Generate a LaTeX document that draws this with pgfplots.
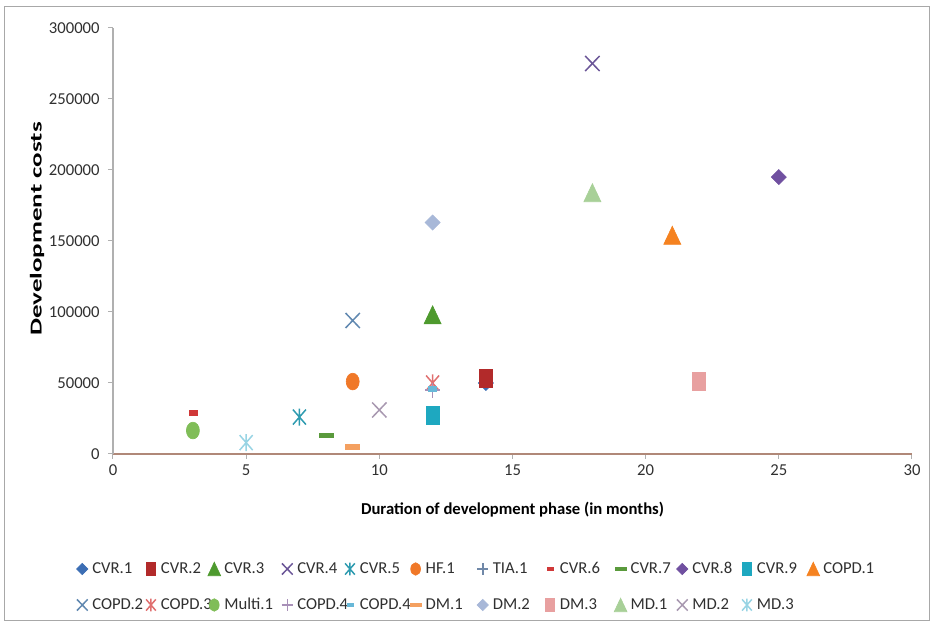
\documentclass[border=0pt]{standalone}
\usepackage{pgfplots}
\pgfplotsset{compat=1.18}
\usepackage{fontspec}
\setmainfont{Carlito}

% series colours
\definecolor{cA}{HTML}{3C6EB4}
\definecolor{cB}{HTML}{B22A2A}
\definecolor{cC}{HTML}{4E9A2E}
\definecolor{cD}{HTML}{6A5597}
\definecolor{cE}{HTML}{2E9BB0}
\definecolor{cF}{HTML}{F07828}
\definecolor{cG}{HTML}{7088A8}
\definecolor{cH}{HTML}{D03838}
\definecolor{cI}{HTML}{5A9A3C}
\definecolor{cJ}{HTML}{7050A0}
\definecolor{cK}{HTML}{1EA8C0}
\definecolor{cL}{HTML}{F58220}
\definecolor{cM}{HTML}{6088B0}
\definecolor{cN}{HTML}{E07070}
\definecolor{cO}{HTML}{80BD58}
\definecolor{cP}{HTML}{A890B8}
\definecolor{cQ}{HTML}{68B8D8}
\definecolor{cR}{HTML}{F4A060}
\definecolor{cS}{HTML}{A8B8D8}
\definecolor{cT}{HTML}{E8A0A0}
\definecolor{cU}{HTML}{A8D098}
\definecolor{cV}{HTML}{A898B0}
\definecolor{cW}{HTML}{98D4E4}
\definecolor{xaxiscol}{HTML}{B08878}
\definecolor{yaxiscol}{HTML}{B0B0B0}
\definecolor{labelcol}{HTML}{303030}
\definecolor{framecol}{HTML}{A8A8A8}

% marker shapes
\pgfdeclareplotmark{mdiam}{%
  \pgfpathmoveto{\pgfqpoint{0pt}{4.5pt}}\pgfpathlineto{\pgfqpoint{4.5pt}{0pt}}%
  \pgfpathlineto{\pgfqpoint{0pt}{-4.5pt}}\pgfpathlineto{\pgfqpoint{-4.5pt}{0pt}}%
  \pgfpathclose\pgfusepathqfillstroke}
\pgfdeclareplotmark{msq}{%
  \pgfpathrectangle{\pgfqpoint{-3.8pt}{-5.4pt}}{\pgfqpoint{7.6pt}{10.8pt}}%
  \pgfusepathqfillstroke}
\pgfdeclareplotmark{mtri}{%
  \pgfpathmoveto{\pgfqpoint{0pt}{5.4pt}}\pgfpathlineto{\pgfqpoint{5.1pt}{-5.4pt}}%
  \pgfpathlineto{\pgfqpoint{-5.1pt}{-5.4pt}}\pgfpathclose\pgfusepathqfillstroke}
\pgfdeclareplotmark{mcirc}{%
  \pgfpathellipse{\pgfpointorigin}{\pgfqpoint{3.9pt}{0pt}}{\pgfqpoint{0pt}{5pt}}%
  \pgfusepathqfillstroke}
\pgfdeclareplotmark{mcross}{%
  \pgfsetlinewidth{0.9pt}%
  \pgfpathmoveto{\pgfqpoint{-4.3pt}{-4.5pt}}\pgfpathlineto{\pgfqpoint{4.3pt}{4.5pt}}%
  \pgfpathmoveto{\pgfqpoint{-4.3pt}{4.5pt}}\pgfpathlineto{\pgfqpoint{4.3pt}{-4.5pt}}%
  \pgfusepathqstroke}
\pgfdeclareplotmark{mstar}{%
  \pgfsetlinewidth{0.9pt}%
  \pgfpathmoveto{\pgfqpoint{-3.9pt}{-4.5pt}}\pgfpathlineto{\pgfqpoint{3.9pt}{4.5pt}}%
  \pgfpathmoveto{\pgfqpoint{-3.9pt}{4.5pt}}\pgfpathlineto{\pgfqpoint{3.9pt}{-4.5pt}}%
  \pgfpathmoveto{\pgfqpoint{0pt}{-5.1pt}}\pgfpathlineto{\pgfqpoint{0pt}{5.1pt}}%
  \pgfusepathqstroke}
\pgfdeclareplotmark{mplus}{%
  \pgfsetlinewidth{0.9pt}%
  \pgfpathmoveto{\pgfqpoint{-4.5pt}{0pt}}\pgfpathlineto{\pgfqpoint{4.5pt}{0pt}}%
  \pgfpathmoveto{\pgfqpoint{0pt}{-4.5pt}}\pgfpathlineto{\pgfqpoint{0pt}{4.5pt}}%
  \pgfusepathqstroke}
\pgfdeclareplotmark{mdash}{%
  \pgfpathrectangle{\pgfqpoint{-2.4pt}{-1.35pt}}{\pgfqpoint{4.8pt}{2.7pt}}%
  \pgfusepathqfillstroke}
\pgfdeclareplotmark{mldash}{%
  \pgfpathrectangle{\pgfqpoint{-4.2pt}{-1.35pt}}{\pgfqpoint{8.4pt}{2.7pt}}%
  \pgfusepathqfillstroke}

% fixed-width legend text slot
\newcommand{\legbox}[2]{\makebox[#1][l]{#2}}

\begin{document}
\begin{tikzpicture}
% page extent and outer frame
\path (-67.8pt,-101.4pt) rectangle (492.6pt,272.4pt);
\draw[framecol, line width=0.6pt] (-64.8pt,-100.2pt) rectangle (489.6pt,268.2pt);
\begin{axis}[
  at={(0pt,0pt)}, anchor=south west,
  scale only axis, width=479.4pt, height=255.6pt,
  xmin=0, xmax=30, ymin=0, ymax=300000,
  scaled y ticks=false, scaled x ticks=false,
  axis x line*=bottom, axis y line*=left,
  x axis line style={xaxiscol, line width=0.7pt},
  y axis line style={yaxiscol, line width=0.7pt},
  xtick={0,5,10,15,20,25,30},
  xticklabels={0,5,10,15,20,25,30},
  ytick={0,50000,100000,150000,200000,250000,300000},
  yticklabels={0,50000,100000,150000,200000,250000,300000},
  tick align=outside, major tick length=3pt,
  tick style={yaxiscol, line width=0.6pt},
  ticklabel style={font=\fontsize{10}{12}\selectfont, text=labelcol},
  yticklabel style={xshift=-1.5pt},
  xlabel={\textbf{Duration of development phase (in months)}},
  ylabel={\scalebox{1.62}[1]{\textbf{Development costs}}},
  label style={font=\fontsize{10}{12}\selectfont},
  xlabel style={at={(axis description cs:0.5,0)}, yshift=-33.6pt, anchor=center},
  ylabel style={at={(axis description cs:-0.0951,0.528)}, anchor=center},
  clip=false,
  legend columns=12,
  legend image code/.code={%
    \path[draw=none, fill=none] (-4.2pt,-6pt) rectangle (4.2pt,6pt);
    \draw[#1, mark options={scale=0.75}] plot coordinates {(0pt,0pt)};},
  legend style={draw=none, fill=none, at={(axis description cs:-0.0476,-0.2457)},
    anchor=north west, inner sep=0pt, column sep=0pt, row sep=9.6pt,
    font=\fontsize{10}{12}\selectfont, text=labelcol,
    nodes={inner xsep=1.8pt, inner ysep=0pt, anchor=west}},
]
\addplot[only marks, color=cA, mark=mdiam] coordinates {(14,50000)};
\addlegendentry{\legbox{29.2pt}{CVR.1}}
\addplot[only marks, color=cB, mark=msq] coordinates {(14,53500)};
\addlegendentry{\legbox{26pt}{CVR.2}}
\addplot[only marks, color=cC, mark=mtri] coordinates {(12,98000)};
\addlegendentry{\legbox{31.8pt}{CVR.3}}
\addplot[only marks, color=cD, mark=mcross] coordinates {(18,275000)};
\addlegendentry{\legbox{25.6pt}{CVR.4}}
\addplot[only marks, color=cE, mark=mstar] coordinates {(7,26000)};
\addlegendentry{\legbox{27.4pt}{CVR.5}}
\addplot[only marks, color=cF, mark=mcirc] coordinates {(9,51000)};
\addlegendentry{\legbox{28.3pt}{HF.1}}
\addplot[only marks, color=cG, mark=mplus] coordinates {(12,45000)};
\addlegendentry{\legbox{28.3pt}{TIA.1}}
\addplot[only marks, color=cH, mark=mdash] coordinates {(3,29000)};
\addlegendentry{\legbox{30.4pt}{CVR.6}}
\addplot[only marks, color=cI, mark=mldash] coordinates {(8,13000)};
\addlegendentry{\legbox{25pt}{CVR.7}}
\addplot[only marks, color=cJ, mark=mdiam] coordinates {(25,195000)};
\addlegendentry{\legbox{26.8pt}{CVR.8}}
\addplot[only marks, color=cK, mark=msq] coordinates {(12,27500)};
\addlegendentry{\legbox{27.8pt}{CVR.9}}
\addplot[only marks, color=cL, mark=mtri] coordinates {(21,154000)};
\addlegendentry{\legbox{30pt}{COPD.1}}
\addplot[only marks, color=cM, mark=mcross] coordinates {(9,94000)};
\addlegendentry{\legbox{29.2pt}{COPD.2}}
\addplot[only marks, color=cN, mark=mstar] coordinates {(12,50000)};
\addlegendentry{\legbox{26pt}{COPD.3}}
\addplot[only marks, color=cO, mark=mcirc] coordinates {(3,16500)};
\addlegendentry{\legbox{31.8pt}{Multi.1}}
\addplot[only marks, color=cP, mark=mplus] coordinates {(12,45000)};
\addlegendentry{\legbox{25.6pt}{COPD.4}}
\addplot[only marks, color=cQ, mark=mdash] coordinates {(12,46000)};
\addlegendentry{\legbox{27.4pt}{COPD.4}}
\addplot[only marks, color=cR, mark=mldash] coordinates {(9,5200)};
\addlegendentry{\legbox{28.3pt}{DM.1}}
\addplot[only marks, color=cS, mark=mdiam] coordinates {(12,163000)};
\addlegendentry{\legbox{28.3pt}{DM.2}}
\addplot[only marks, color=cT, mark=msq] coordinates {(22,51000)};
\addlegendentry{\legbox{30.4pt}{DM.3}}
\addplot[only marks, color=cU, mark=mtri] coordinates {(18,184000)};
\addlegendentry{\legbox{25pt}{MD.1}}
\addplot[only marks, color=cV, mark=mcross] coordinates {(10,31000)};
\addlegendentry{\legbox{26.8pt}{MD.2}}
\addplot[only marks, color=cW, mark=mstar] coordinates {(5,8000)};
\addlegendentry{\legbox{27.8pt}{MD.3}}
\end{axis}
\end{tikzpicture}
\end{document}
